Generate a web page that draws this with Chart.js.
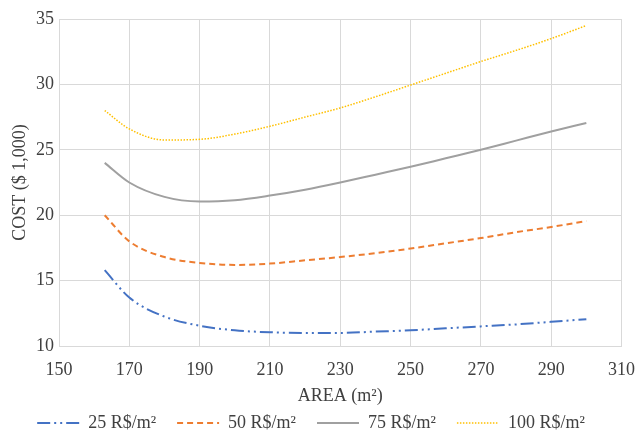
<!DOCTYPE html>
<html lang="en">
<head>
<meta charset="UTF-8">
<title>Cost vs Area</title>
<script src="https://cdn.jsdelivr.net/npm/chart.js@4/dist/chart.umd.min.js"></script>
<style>
  html, body { margin: 0; padding: 0; background: #fff; }
  #wrap { width: 635px; height: 434px; }
</style>
</head>
<body>
<div id="wrap"><canvas id="costChart"></canvas></div>
<script>
// area (m²) sample points
var area = [163, 170, 180, 190, 200, 210, 220, 230, 240, 250, 260, 270, 280, 290, 300];

// cost ($ 1,000) for each price per m²
var cost25  = [15.8, 13.7, 12.25, 11.55, 11.2, 11.05, 11.0, 11.0, 11.1, 11.2, 11.35, 11.5, 11.65, 11.85, 12.05];
var cost50  = [20.0, 18.0, 16.8, 16.35, 16.2, 16.3, 16.55, 16.8, 17.1, 17.45, 17.85, 18.25, 18.7, 19.1, 19.55];
var cost75  = [24.0, 22.5, 21.4, 21.05, 21.15, 21.5, 21.95, 22.5, 23.1, 23.7, 24.35, 25.0, 25.7, 26.4, 27.05];
var cost100 = [28.0, 26.6, 25.75, 25.8, 26.2, 26.8, 27.5, 28.2, 29.05, 29.95, 30.85, 31.75, 32.6, 33.5, 34.5];

var seriesNames = ['25 R$/m²', '50 R$/m²', '75 R$/m²', '100 R$/m²'];

function pts(vals) {
  return area.map(function(a, i) { return {x: a, y: vals[i]}; });
}

var serif = "'Liberation Serif', 'Times New Roman', serif";
var textColor = '#404040';
var gridColor = '#d9d9d9';

var ctx = document.getElementById('costChart').getContext('2d');
new Chart(ctx, {
  type: 'line',
  data: {
    datasets: [
      { label: seriesNames[0], data: pts(cost25), borderColor: '#4472C4', backgroundColor: '#4472C4',
        borderWidth: 2, borderDash: [13, 4, 2, 4, 2, 4] },
      { label: seriesNames[1], data: pts(cost50), borderColor: '#ED7D31', backgroundColor: '#ED7D31',
        borderWidth: 2, borderDash: [6, 4] },
      { label: seriesNames[2], data: pts(cost75), borderColor: '#A0A0A0', backgroundColor: '#A0A0A0',
        borderWidth: 2 },
      { label: seriesNames[3], data: pts(cost100), borderColor: '#FFC000', backgroundColor: '#FFC000',
        borderWidth: 1.5, borderDash: [1.5, 1.5] }
    ]
  },
  options: {
    responsive: true,
    maintainAspectRatio: false,
    animation: false,
    cubicInterpolationMode: 'monotone',
    elements: { point: { radius: 0 } },
    layout: { padding: { top: 19, right: 13, left: 0, bottom: -8 } },
    plugins: {
      tooltip: { enabled: false },
      legend: {
        position: 'bottom',
        labels: {
          usePointStyle: true,
          pointStyle: 'line',
          pointStyleWidth: 42,
          boxHeight: 2,
          padding: 21,
          color: textColor,
          font: { family: serif, size: 18 },
          // point-style legend items lose the dash, so copy it back from the dataset
          generateLabels: function(chart) {
            var items = Chart.defaults.plugins.legend.labels.generateLabels(chart);
            items.forEach(function(it) {
              var ds = chart.data.datasets[it.datasetIndex];
              it.lineDash = ds.borderDash || [];
              it.strokeStyle = ds.borderColor;
              it.lineWidth = ds.borderWidth;
            });
            return items;
          }
        }
      }
    },
    scales: {
      x: {
        type: 'linear',
        min: 150,
        max: 310,
        ticks: { stepSize: 20, padding: 0, color: textColor, font: { family: serif, size: 18 } },
        grid: { color: gridColor, drawTicks: true, tickLength: 13, tickColor: 'rgba(0,0,0,0)' },
        border: { color: gridColor },
        title: { display: true, text: 'AREA (m²)', color: textColor, padding: { top: 0, bottom: -14 },
                 font: { family: serif, size: 18 } },
        afterFit: function(scale) { scale.height = 47; }
      },
      y: {
        min: 10,
        max: 35,
        ticks: { stepSize: 5, padding: 5, color: textColor, font: { family: serif, size: 18 } },
        grid: { color: gridColor, drawTicks: false },
        border: { color: gridColor },
        title: { display: true, text: 'COST ($ 1,000)', color: textColor, padding: { top: 9, bottom: 0 },
                 font: { family: serif, size: 18 } },
        afterFit: function(scale) { scale.width = 59; }
      }
    }
  }
});
</script>
</body>
</html>
